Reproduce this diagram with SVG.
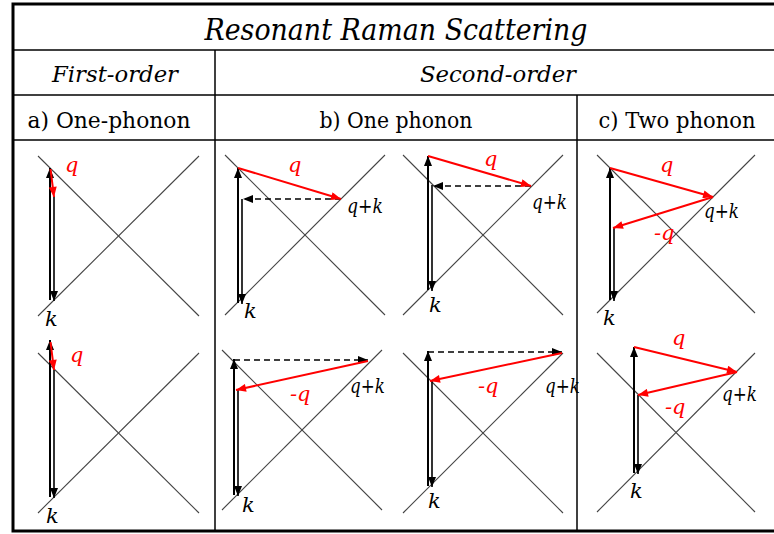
<svg xmlns="http://www.w3.org/2000/svg" width="774" height="534" viewBox="0 0 774 534">
<defs>
<style>
.grid{stroke:#000;stroke-width:1.5;fill:none}
.band{stroke:#444;stroke-width:1.1;fill:none}
.ph{stroke:#000;stroke-width:2;fill:none}
.ph2{stroke:#000;stroke-width:1.6;fill:none}
.dash{stroke:#000;stroke-width:1.5;stroke-dasharray:6 4;fill:none}
.red{stroke:#f00;stroke-width:2;fill:none}
.hd{font-family:"DejaVu Serif","Liberation Serif",serif;fill:#000;text-anchor:middle}
.lb{font-family:"DejaVu Serif","Liberation Serif",serif;font-style:italic;font-size:21px}
.lk{fill:#000}
.lq{fill:#f00}
</style>
<marker id="ab" viewBox="0 0 10 8" refX="10" refY="4" markerWidth="10" markerHeight="8" markerUnits="userSpaceOnUse" orient="auto"><path d="M0,0 L10,4 L0,8 z" fill="#000"/></marker>
<marker id="ar" viewBox="0 0 10 8" refX="10" refY="4" markerWidth="11" markerHeight="8" markerUnits="userSpaceOnUse" orient="auto"><path d="M0,0 L10,4 L0,8 z" fill="#f00"/></marker>
</defs>
<rect width="774" height="534" fill="#fff"/>
<g id="table">
<rect x="13" y="4" width="770" height="527" fill="none" stroke="#000" stroke-width="3"/>
<line class="grid" x1="13" y1="50" x2="774" y2="50"/>
<line class="grid" x1="13" y1="95" x2="774" y2="95"/>
<line class="grid" x1="13" y1="140" x2="774" y2="140"/>
<line class="grid" x1="215" y1="50" x2="215" y2="531"/>
<line class="grid" x1="577" y1="95" x2="577" y2="531"/>
<text class="hd" x="396" y="40" font-size="29" font-style="italic" textLength="383" lengthAdjust="spacingAndGlyphs">Resonant Raman Scattering</text>
<text class="hd" x="115" y="82" font-size="23" font-style="italic" textLength="126" lengthAdjust="spacingAndGlyphs">First-order</text>
<text class="hd" x="498" y="82" font-size="23" font-style="italic" textLength="156" lengthAdjust="spacingAndGlyphs">Second-order</text>
<text class="hd" x="109" y="128" font-size="23" textLength="163" lengthAdjust="spacingAndGlyphs">a) One-phonon</text>
<text class="hd" x="396" y="128" font-size="23" textLength="153" lengthAdjust="spacingAndGlyphs">b) One phonon</text>
<text class="hd" x="677" y="128" font-size="23" textLength="157" lengthAdjust="spacingAndGlyphs">c) Two phonon</text>
</g>
<g id="panel-a1">
<line class="band" x1="38" y1="156" x2="199" y2="316"/>
<line class="band" x1="199" y1="156" x2="38" y2="316"/>
<text class="lb lq" x="65" y="172">q</text>
<text class="lb lk" x="45" y="326">k</text>
</g>
<g id="panel-a2">
<line class="band" x1="38" y1="353" x2="199" y2="513"/>
<line class="band" x1="199" y1="353" x2="38" y2="513"/>
<text class="lb lq" x="70" y="362">q</text>
<text class="lb lk" x="46" y="523">k</text>
</g>
<g id="panel-b1">
<line class="band" x1="225" y1="155" x2="385" y2="315"/>
<line class="band" x1="385" y1="155" x2="225" y2="315"/>
<text class="lb lq" x="288" y="172">q</text>
<text class="lb lk" x="347" y="213" textLength="36" lengthAdjust="spacingAndGlyphs">q+k</text>
<text class="lb lk" x="244" y="318">k</text>
</g>
<g id="panel-b2">
<line class="band" x1="403" y1="155" x2="563" y2="315"/>
<line class="band" x1="563" y1="155" x2="403" y2="315"/>
<text class="lb lq" x="484" y="166">q</text>
<text class="lb lk" x="532" y="209" textLength="35" lengthAdjust="spacingAndGlyphs">q+k</text>
<text class="lb lk" x="429" y="312">k</text>
</g>
<g id="panel-c1">
<line class="band" x1="597" y1="155" x2="755" y2="313"/>
<line class="band" x1="755" y1="155" x2="597" y2="313"/>
<text class="lb lq" x="660" y="172">q</text>
<text class="lb lq" x="654" y="240">-q</text>
<text class="lb lk" x="704" y="218" textLength="35" lengthAdjust="spacingAndGlyphs">q+k</text>
<text class="lb lk" x="603" y="325">k</text>
</g>
<g id="panel-b3">
<line class="band" x1="222" y1="350" x2="382" y2="510"/>
<line class="band" x1="382" y1="350" x2="222" y2="510"/>
<text class="lb lq" x="290" y="401">-q</text>
<text class="lb lk" x="350" y="393" textLength="35" lengthAdjust="spacingAndGlyphs">q+k</text>
<text class="lb lk" x="242" y="512">k</text>
</g>
<g id="panel-b4">
<line class="band" x1="403" y1="353" x2="563" y2="513"/>
<line class="band" x1="563" y1="353" x2="403" y2="513"/>
<text class="lb lq" x="478" y="393">-q</text>
<text class="lb lk" x="545" y="393" textLength="35" lengthAdjust="spacingAndGlyphs">q+k</text>
<text class="lb lk" x="428" y="508">k</text>
</g>
<g id="panel-c2">
<line class="band" x1="597" y1="353" x2="755" y2="512"/>
<line class="band" x1="755" y1="353" x2="597" y2="512"/>
<text class="lb lq" x="672" y="345">q</text>
<text class="lb lq" x="665" y="414">-q</text>
<text class="lb lk" x="722" y="401" textLength="35" lengthAdjust="spacingAndGlyphs">q+k</text>
<text class="lb lk" x="630" y="498">k</text>
</g>
<g id="connectors">
<line class="ph" x1="50" y1="300" x2="50" y2="168" marker-end="url(#ab)"/>
<line class="ph2" x1="54" y1="196" x2="54" y2="301" marker-end="url(#ab)"/>
<line class="red" x1="50.5" y1="169" x2="54" y2="197" marker-end="url(#ar)"/>
<line class="ph" x1="50" y1="497" x2="50" y2="340" marker-end="url(#ab)"/>
<line class="ph2" x1="54" y1="370" x2="54" y2="498" marker-end="url(#ab)"/>
<line class="red" x1="50.5" y1="342" x2="54" y2="370" marker-end="url(#ar)"/>
<line class="ph" x1="238" y1="303" x2="238" y2="168" marker-end="url(#ab)"/>
<line class="ph2" x1="242" y1="199" x2="242" y2="304" marker-end="url(#ab)"/>
<line class="dash" x1="341" y1="199" x2="243" y2="199" marker-end="url(#ab)"/>
<line class="red" x1="238" y1="168" x2="341" y2="199" marker-end="url(#ar)"/>
<line class="ph" x1="428" y1="290" x2="428" y2="156" marker-end="url(#ab)"/>
<line class="ph2" x1="432" y1="185" x2="432" y2="291" marker-end="url(#ab)"/>
<line class="dash" x1="531" y1="186" x2="433" y2="186" marker-end="url(#ab)"/>
<line class="red" x1="428" y1="156" x2="531" y2="186" marker-end="url(#ar)"/>
<line class="ph" x1="610" y1="300" x2="610" y2="168" marker-end="url(#ab)"/>
<line class="ph2" x1="614" y1="228" x2="614" y2="301" marker-end="url(#ab)"/>
<line class="red" x1="610" y1="168" x2="713" y2="197" marker-end="url(#ar)"/>
<line class="red" x1="713" y1="197" x2="613" y2="228" marker-end="url(#ar)"/>
<line class="ph" x1="234" y1="495" x2="234" y2="359" marker-end="url(#ab)"/>
<line class="ph2" x1="238" y1="390" x2="238" y2="496" marker-end="url(#ab)"/>
<line class="dash" x1="234" y1="360" x2="368" y2="360" marker-end="url(#ab)"/>
<line class="red" x1="368" y1="361" x2="236" y2="390" marker-end="url(#ar)"/>
<line class="ph" x1="428" y1="486" x2="428" y2="351" marker-end="url(#ab)"/>
<line class="ph2" x1="432" y1="380" x2="432" y2="487" marker-end="url(#ab)"/>
<line class="dash" x1="428" y1="352" x2="562" y2="352" marker-end="url(#ab)"/>
<line class="red" x1="562" y1="353" x2="430" y2="381" marker-end="url(#ar)"/>
<line class="ph" x1="634" y1="473" x2="634" y2="347" marker-end="url(#ab)"/>
<line class="ph2" x1="638" y1="395" x2="638" y2="474" marker-end="url(#ab)"/>
<line class="red" x1="634" y1="347" x2="737" y2="372" marker-end="url(#ar)"/>
<line class="red" x1="737" y1="372" x2="638" y2="395" marker-end="url(#ar)"/>
</g>
</svg>
